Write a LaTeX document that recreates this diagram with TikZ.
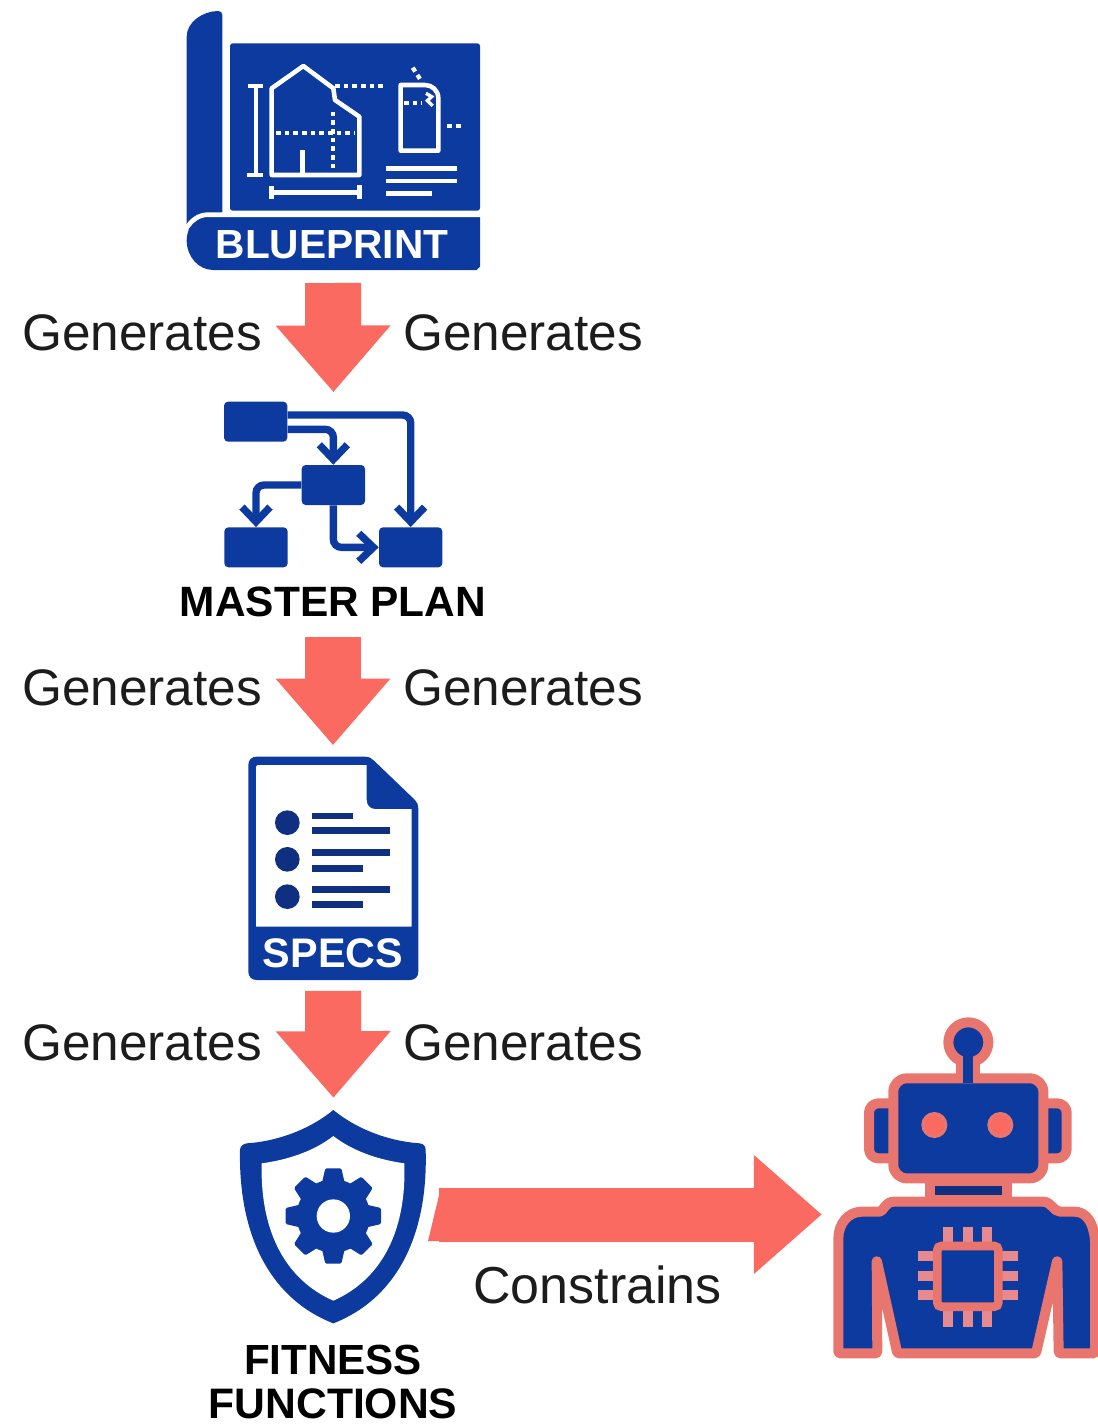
\documentclass[tikz,border=0pt]{standalone}
\usepackage{fontspec}
\setmainfont{Liberation Sans}
\usetikzlibrary{arrows.meta}
\definecolor{iconblue}{HTML}{0D3A9E}
\definecolor{navy}{HTML}{0F2F80}
\definecolor{coral}{HTML}{FB6A60}
\definecolor{salmon}{HTML}{E8766E}
\definecolor{pin}{HTML}{E68A90}
\definecolor{ink}{HTML}{1C1C1C}
\tikzset{
  flowlabel/.style={font=\fontsize{38.5}{42}\selectfont,text=ink,inner sep=0pt},
  titlelabel/.style={font=\fontsize{31.8}{33}\selectfont\bfseries,text=black,inner sep=0pt,align=center},
  bandlabel/.style={font=\fontsize{30.5}{33}\selectfont\bfseries,text=white,inner sep=0pt},
  iconbox/.style={inner sep=0pt,outer sep=0pt,minimum width=#1},
  bigarrow/.style={draw=coral,line width=42pt,-{Triangle[length=50pt,width=83pt]}},
  sidearrow/.style={draw=coral,line width=40.5pt,-{Triangle[length=51pt,width=86pt]}},
  wline/.style={draw=white,line width=3.4pt},
  wdots/.style={draw=white,line width=3.2pt,dash pattern=on 3.5pt off 3pt},
  planbox/.style={fill=iconblue,rounded corners=3pt,inner sep=0pt,minimum width=47.5pt,minimum height=30pt},
  planline/.style={draw=iconblue,line width=5.5pt,rounded corners=6pt,-{Straight Barb[length=11pt,width=21pt]}},
  docline/.style={draw=navy,line width=5pt},
  robot/.style={draw=salmon,line width=7.5pt,line join=round,fill=iconblue},
  pinline/.style={draw=pin,line width=7.5pt}
}
\begin{document}
\begin{tikzpicture}[x=0.75pt,y=-0.75pt]
\useasboundingbox (0,0) rectangle (1097,1425);

% invisible frames of the icons
\node[iconbox=219pt,minimum height=195pt] (blueprint) at (333,141) {};
\node[iconbox=164pt,minimum height=125pt] (plan) at (333.5,484.5) {};
\node[iconbox=128pt,minimum height=167pt] (specs) at (333,868.5) {};
\node[iconbox=140pt,minimum height=160pt] (shield) at (333.5,1216.5) {};
\node[iconbox=199pt,minimum height=256pt] (robotframe) at (964.5,1187.5) {};

% ---------- blueprint
\begin{scope}[shift={(170,0)},x=0.25pt,y=-0.25pt]
\fill[iconblue] (50,690) -- (50,110) .. controls (50,65) and (100,33) .. (145,33)
  .. controls (152,33) and (157,38) .. (157,45) -- (157,660) -- cycle;
\fill[iconblue,rounded corners=2pt] (180,130) rectangle (930,632);
\fill[iconblue] (930,650) -- (110,650) .. controls (70,650) and (50,690) .. (50,720)
  .. controls (50,770) and (85,810) .. (130,810) -- (920,810) -- (930,800) -- cycle;
\draw[draw=white,line width=3.5pt] (45,690) .. controls (65,660) and (85,644) .. (115,644) -- (935,644);
\draw[draw=white,line width=5pt] (168,40) -- (168,644);
% dimension I
\draw[wline] (258,258) -- (258,525) (235,258) -- (280,258) (232,525) -- (280,525);
% house
\draw[wline,line join=round] (305,265) -- (400,198) -- (490,265) -- (495,300) -- (568,350) -- (568,525) -- (305,525) -- cycle;
\draw[wline] (397,450) -- (397,525);
\draw[wdots] (318,398) -- (555,398);
\draw[wdots] (488,335) -- (488,510);
\draw[wdots] (495,258) -- (648,258);
% dimension H
\draw[wline] (305,578) -- (570,578) (305,558) -- (305,598) (568,555) -- (568,598);
% detail
\draw[wline,line join=round] (692,255) -- (692,452) -- (805,452) -- (805,295) .. controls (805,270) and (785,255) .. (765,255) -- cycle;
\draw[wdots] (728,203) -- (752,240);
\draw[wdots] (702,310) -- (755,310);
\draw[draw=white,line width=2.5pt] (768,280) -- (785,290) -- (772,302) -- (788,318);
\draw[wdots] (832,378) -- (872,378);
\draw[wline] (648,505) -- (862,505) (648,543) -- (862,543) (648,581) -- (785,581);
\end{scope}
\node[bandlabel] (bluetext) at (332,245) {BLUEPRINT};

% ---------- master plan
\begin{scope}[shift={(200,390)},x=0.25pt,y=-0.25pt]
\node[planbox] (b1) at (167,95) {};
\node[planbox] (b2) at (400,285) {};
\node[planbox] (b3) at (168,472) {};
\node[planbox] (b4) at (632,472) {};
\draw[planline] ([yshift=5pt]b1.east) -| (b4.north);
\draw[planline] ([yshift=-5.75pt]b1.east) -| (b2.north);
\draw[planline] (b2.west) -| (b3.north);
\draw[planline] (b2.south) |- (b4.west);
\end{scope}
\node[titlelabel] (plantext) at (333,602) {MASTER PLAN};

% ---------- specs
\begin{scope}[shift={(230,750)},x=0.25pt,y=-0.25pt]
\fill[iconblue] (80,20) -- (405,20) .. controls (418,20) and (425,25) .. (432,32) -- (555,150)
  .. controls (562,157) and (565,165) .. (565,178) -- (565,665) .. controls (565,680) and (555,690) .. (540,690)
  -- (80,690) .. controls (65,690) and (55,680) .. (55,665) -- (55,45) .. controls (55,30) and (65,20) .. (80,20) -- cycle;
\fill[white] (85,45) -- (410,45) -- (410,150) .. controls (410,165) and (420,177) .. (435,177) -- (545,177) -- (545,530) -- (78,530) -- (78,52) .. controls (78,48) and (81,45) .. (85,45) -- cycle;
\fill[navy] (172,218) circle[radius=37] (172,328) circle[radius=37] (172,440) circle[radius=37];
\draw[docline] (245,198) -- (370,198) (245,242) -- (480,242) (245,308) -- (480,308)
  (245,355) -- (400,355) (245,418) -- (480,418) (245,463) -- (400,463);
\end{scope}
\node[bandlabel,font=\fontsize{31}{33}\selectfont\bfseries] (specstext) at (333,953) {SPECS};

% ---------- shield
\begin{scope}[shift={(220,1100)},x=0.25pt,y=-0.25pt]
\fill[iconblue] (340,30) .. controls (420,95) and (520,125) .. (600,130) .. controls (612,132) and (617,140) .. (617,150)
  .. controls (625,420) and (520,600) .. (340,670) .. controls (160,600) and (55,420) .. (60,150)
  .. controls (60,140) and (68,132) .. (80,130) .. controls (160,125) and (260,95) .. (340,30) -- cycle;
\fill[white] (340,108) .. controls (400,155) and (480,180) .. (553,190)
  .. controls (560,400) and (480,540) .. (340,602) .. controls (200,540) and (120,400) .. (125,190)
  .. controls (200,180) and (280,155) .. (340,108) -- cycle;
\fill[iconblue] (340,348) circle[radius=110];
\foreach \a in {0,45,...,315}
  \fill[iconblue,shift={(340,348)},rotate=\a,rounded corners=1pt] (-34,-100) -- (-24,-143) -- (24,-143) -- (34,-100) -- cycle;
\fill[white] (340,348) circle[radius=50];
\end{scope}
\node[titlelabel,font=\fontsize{31.6}{33}\selectfont\bfseries] (fittext1) at (333,1360) {FITNESS};
\node[titlelabel,font=\fontsize{32}{33}\selectfont\bfseries] (fittext2) at (333,1404) {FUNCTIONS};

% ---------- robot
\begin{scope}[shift={(820,1010)},x=0.25pt,y=-0.25pt]
% ears
\draw[robot,rounded corners=7pt] (240,280) -- (147,280) -- (147,445) -- (240,445) -- cycle;
\draw[robot,rounded corners=7pt] (650,280) -- (740,280) -- (740,445) -- (650,445) -- cycle;
% antenna
\draw[draw=salmon,line width=18pt] (445,130) -- (445,215);
\draw[robot] (445,97) circle[radius=60];
% neck
\draw[robot,fill=navy] (330,513) rectangle (560,570);
% body
\draw[robot,rounded corners=1pt] (55,1030) -- (55,690) .. controls (55,640) and (85,605) .. (130,605)
  -- (175,605) .. controls (190,605) and (195,575) .. (225,575) -- (665,575)
  .. controls (695,575) and (700,605) .. (725,605) -- (760,605) .. controls (800,605) and (820,640) .. (825,690)
  -- (825,1030) -- (716,1030) -- (712,750) -- (648,1030) -- (232,1030) -- (170,750) -- (172,1030) -- cycle;
% head
\draw[robot,rounded corners=10pt] (220,205) rectangle (670,505);
\draw[draw=iconblue,line width=7.5pt] (445,130) -- (445,218);
\fill[coral] (343,345) circle[radius=30] (541,345) circle[radius=30];
\draw[draw=salmon,line width=2.5pt] (343,345) circle[radius=34] (541,345) circle[radius=34];
% chip
\draw[pinline] (385,650) -- (385,700) (443,650) -- (443,700) (500,650) -- (500,700)
  (385,900) -- (385,950) (443,900) -- (443,950) (500,900) -- (500,950)
  (295,738) -- (345,738) (295,797) -- (345,797) (295,855) -- (345,855)
  (545,738) -- (595,738) (545,797) -- (595,797) (545,855) -- (595,855);
\draw[draw=salmon,fill=iconblue,line width=6.5pt,rounded corners=3pt] (352,708) rectangle (535,890);
\end{scope}

% ---------- connectors
\draw[bigarrow,shorten <=9pt,shorten >=6.75pt] (blueprint.south) -- (plan.north);
\draw[bigarrow,shorten <=14.5pt,shorten >=9pt] (plantext.south) -- (specs.north);
\draw[bigarrow,shorten <=8.25pt,shorten >=9pt] (specs.south) -- (shield.north);
\fill[coral] (441,1187) -- (428,1241) -- (441,1241) -- cycle;
\draw[sidearrow,shorten <=9pt,shorten >=7.5pt] ([yshift=1.5pt]shield.east) -- ([yshift=-20.25pt]robotframe.west);

% ---------- labels
\node[flowlabel] (g1l) at (142,333) {Generates};
\node[flowlabel] (g1r) at (523,333) {Generates};
\node[flowlabel] (g2l) at (142,688) {Generates};
\node[flowlabel] (g2r) at (523,688) {Generates};
\node[flowlabel] (g3l) at (142,1043) {Generates};
\node[flowlabel] (g3r) at (523,1043) {Generates};
\node[flowlabel,font=\fontsize{39}{42}\selectfont] (constrains) at (597.5,1285) {Constrains};
\end{tikzpicture}
\end{document}
